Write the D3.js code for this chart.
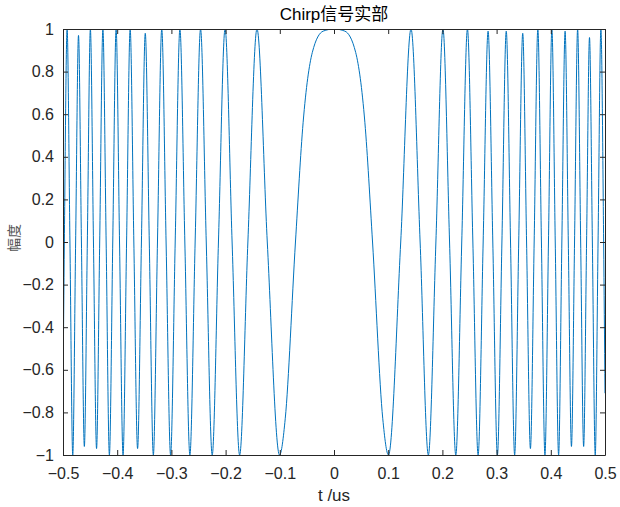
<!DOCTYPE html>
<html>
<head>
<meta charset="utf-8">
<script src="https://cdn.jsdelivr.net/npm/d3@7"></script>
<style>
  body { margin: 0; background: #fff; }
  text { font-family: "Liberation Sans", Arial, sans-serif; }
</style>
</head>
<body>
<div id="chart"></div>
<script>
// Data: times (us) of extrema / zero crossings and amplitude
const timeUs = [
  -0.5, -0.4975, -0.4924, -0.4872, -0.4820, -0.4767, -0.4714, -0.4660, -0.4606, -0.4551,
  -0.4495, -0.4438, -0.4381, -0.4323, -0.4264, -0.4204, -0.4144, -0.4082, -0.4020, -0.3957,
  -0.3892, -0.3827, -0.3761, -0.3693, -0.3624, -0.3553, -0.3482, -0.3408, -0.3333, -0.3257,
  -0.3178, -0.3098, -0.3015, -0.2930, -0.2843, -0.2752, -0.2659, -0.2562, -0.2462, -0.2357,
  -0.2247, -0.2132, -0.2010, -0.1880, -0.1741, -0.1589, -0.1421, -0.1231, -0.1005, -0.09,
  -0.0711, -0.057, -0.04, -0.02,
  0,
  0.02, 0.04, 0.057, 0.0711,
  0.09, 0.1005, 0.1231, 0.1421, 0.1589, 0.1741, 0.1880, 0.2010, 0.2132, 0.2247,
  0.2357, 0.2462, 0.2562, 0.2659, 0.2752, 0.2843, 0.2930, 0.3015, 0.3098, 0.3178,
  0.3257, 0.3333, 0.3408, 0.3482, 0.3553, 0.3624, 0.3693, 0.3761, 0.3827, 0.3892,
  0.3957, 0.4020, 0.4082, 0.4144, 0.4204, 0.4264, 0.4323, 0.4381, 0.4438, 0.4495,
  0.4551, 0.4606, 0.4660, 0.4714, 0.4767, 0.4820, 0.4872, 0.4924, 0.4975, 0.5
];
const amplitude = [
  -0.71, 0, 1, 0, -1, 0, 0.97, 0, -0.96, 0,
  1, 0, -0.97, 0, 1, 0, -1, 0, 1, 0,
  -1, 0, 1, 0, -0.97, 0, 0.98, 0, -1, 0,
  1, 0, -1, 0, 1, 0, -1, 0, 1, 0,
  -1, 0, 1, 0, -1, 0, 1, 0, -1, -0.83,
  0, 0.56, 0.89, 0.99,
  1,
  0.99, 0.89, 0.56, 0,
  -0.83, -1, 0, 1, 0, -1, 0, 1, 0, -1,
  0, 1, 0, -1, 0, 0.99, 0, -1, 0, 0.99,
  0, -1, 0, 0.98, 0, -0.97, 0, 1, 0, -1,
  0, 1, 0, -1, 0, 0.99, 0, -0.96, 0, 1,
  0, -0.96, 0, 0.96, 0, -1, 0, 1, 0, -0.71
];
const xTicks = [-0.5, -0.4, -0.3, -0.2, -0.1, 0, 0.1, 0.2, 0.3, 0.4, 0.5];
const yTicks = [-1, -0.8, -0.6, -0.4, -0.2, 0, 0.2, 0.4, 0.6, 0.8, 1];

const W = 620, H = 507;
const margin = { top: 29, right: 15, bottom: 52, left: 63 };
const width = W - margin.left - margin.right;
const height = H - margin.top - margin.bottom;
const axisColor = "#262626";

const svg = d3.select("#chart")
    .append("svg")
    .attr("width", W)
    .attr("height", H);

const g = svg.append("g")
    .attr("transform", `translate(${margin.left},${margin.top})`);

const x = d3.scaleLinear().domain([-0.5, 0.5]).range([0, width]);
const y = d3.scaleLinear().domain([-1, 1]).range([height, 0]);

const points = timeUs.map((t, i) => ({ t, a: amplitude[i] }));

// clip to axes box
svg.append("defs").append("clipPath").attr("id", "clip")
    .append("rect").attr("width", width).attr("height", height);

const line = d3.line()
    .x(d => x(d.t))
    .y(d => y(d.a))
    .curve(d3.curveMonotoneX);

g.append("path")
    .datum(points)
    .attr("clip-path", "url(#clip)")
    .attr("fill", "none")
    .attr("stroke", "#0072BD")
    .attr("stroke-width", 1)
    .attr("d", line);

const fmt = d => d3.format("")(+d.toFixed(1));

// axes: ticks pointing inward on all four sides
function styleAxis(sel) {
    sel.select(".domain").attr("stroke", axisColor);
    sel.selectAll(".tick line").attr("stroke", axisColor);
    sel.selectAll(".tick text").attr("fill", axisColor).style("font-size", "16px")
        .style("font-family", "'Liberation Sans', Arial, sans-serif");
}

g.append("g")
    .attr("transform", `translate(0,${height})`)
    .call(d3.axisBottom(x).tickValues(xTicks).tickFormat(fmt).tickSizeInner(-5).tickSizeOuter(0).tickPadding(12.5))
    .call(styleAxis);

g.append("g")
    .call(d3.axisTop(x).tickValues(xTicks).tickFormat("").tickSizeInner(-5).tickSizeOuter(0))
    .call(styleAxis);

g.append("g")
    .call(d3.axisLeft(y).tickValues(yTicks).tickFormat(fmt).tickSizeInner(-5).tickSizeOuter(0).tickPadding(9))
    .call(styleAxis);

g.append("g")
    .attr("transform", `translate(${width},0)`)
    .call(d3.axisRight(y).tickValues(yTicks).tickFormat("").tickSizeInner(-5).tickSizeOuter(0))
    .call(styleAxis);

// title and labels
svg.append("text")
    .attr("x", margin.left + width / 2)
    .attr("y", 20)
    .attr("text-anchor", "middle")
    .style("font-size", "17px")
    .style("font-family", "'Liberation Sans', 'Noto Sans CJK SC', sans-serif")
    .attr("fill", "#000")
    .text("Chirp信号实部");

svg.append("text")
    .attr("x", margin.left + width / 2)
    .attr("y", 501)
    .attr("text-anchor", "middle")
    .style("font-size", "17px")
    .attr("fill", axisColor)
    .text("t /us");

svg.append("text")
    .attr("transform", `translate(19,${margin.top + height / 2 - 4}) rotate(-90)`)
    .attr("text-anchor", "middle")
    .style("font-size", "14px")
    .style("font-family", "'Noto Sans CJK SC', sans-serif")
    .attr("fill", "#555")
    .text("幅度");
</script>
</body>
</html>
